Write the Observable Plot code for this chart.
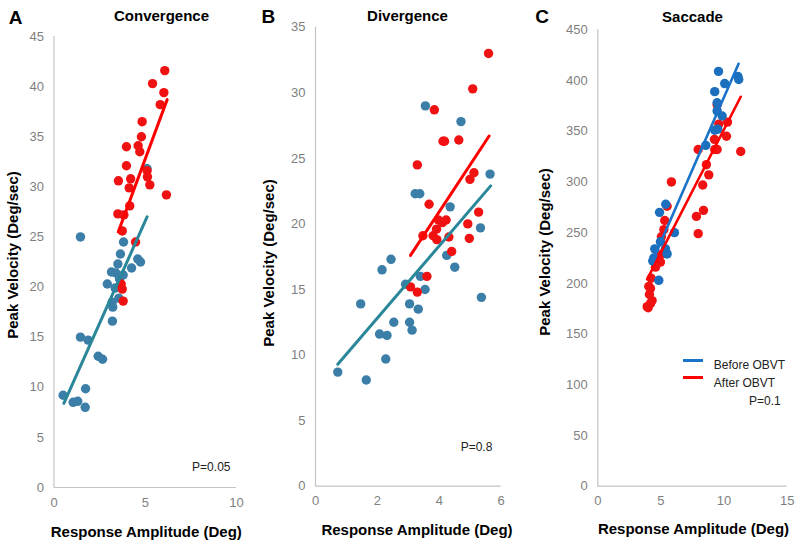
<!DOCTYPE html>
<html>
<head>
<meta charset="utf-8">
<script src="https://cdn.jsdelivr.net/npm/d3@7"></script>
<script src="https://cdn.jsdelivr.net/npm/@observablehq/plot@0.6"></script>
<style>
  html, body { margin: 0; padding: 0; background: #fff; }
  #chart { position: relative; width: 800px; height: 547px; overflow: hidden; background: #fff;
           font-family: 'Liberation Sans', Arial, sans-serif; }
  .panel { position: absolute; top: 0; }
  .panel svg { overflow: visible; display: block; }
  .lbl { position: absolute; white-space: nowrap; line-height: 1; transform: translate(-50%, -50%); color: #000; }
  .lblL { position: absolute; white-space: nowrap; line-height: 1; transform: translate(0, -50%); color: #000; }
  .letter { font-size: 19px; font-weight: bold; }
  .title { font-size: 15px; font-weight: bold; }
  .axt { font-size: 15px; font-weight: bold; }
  .axtY { font-size: 15px; font-weight: bold; transform: translate(-50%, -50%) rotate(-90deg); }
  .note { font-size: 12px; color: #222; }
  .legline { position: absolute; height: 3px; }
</style>
</head>
<body>
<div id="chart"></div>
<script>
// ---------------- DATA ----------------
// Panel A: Convergence
const convXTicks = [0, 5, 10];
const convYTicks = [0, 5, 10, 15, 20, 25, 30, 35, 40, 45];
const convBefore = [[1.45,25.0],[3.81,24.5],[3.64,23.3],[4.59,22.8],[4.74,22.5],[3.5,22.3],[4.25,21.9],[3.15,21.5],[3.39,21.4],[3.79,21.2],[3.59,20.8],[2.92,20.3],[3.35,19.9],[3.55,18.9],[3.19,18.5],[3.22,18.0],[3.2,16.6],[1.45,15.0],[1.87,14.7],[2.42,13.1],[2.66,12.8],[1.73,9.85],[0.5,9.2],[1.05,8.5],[1.3,8.6],[1.71,8.0],[5.1,31.8]];
const convAfter = [[6.07,41.6],[5.4,40.3],[6.02,39.4],[5.82,38.2],[4.83,36.5],[4.79,35.0],[3.97,34.0],[4.61,34.1],[4.70,33.5],[3.97,32.1],[5.1,31.6],[4.2,30.8],[5.12,31.0],[3.53,30.6],[5.25,30.2],[4.12,29.9],[6.16,29.2],[4.15,28.1],[3.5,27.3],[3.83,27.2],[3.74,25.6],[4.47,24.5],[3.68,20.3],[3.74,19.8],[3.79,18.6]];
const convBeforeFit = [[0.54,8.4],[5.1,27.0]];
const convAfterFit = [[3.52,25.5],[6.2,38.7]];

// Panel B: Divergence
const divXTicks = [0, 2, 4, 6];
const divYTicks = [0, 5, 10, 15, 20, 25, 30, 35];
const divBefore = [[3.55,29.0],[4.70,27.8],[5.64,23.8],[3.22,22.3],[3.37,22.3],[4.35,21.3],[5.33,19.7],[4.24,17.6],[2.44,17.3],[4.5,16.7],[2.15,16.5],[3.39,16.0],[2.91,15.4],[3.54,15.0],[5.36,14.4],[1.46,13.9],[3.04,13.9],[3.32,13.5],[2.53,12.5],[3.04,12.5],[3.12,11.9],[2.07,11.6],[2.31,11.5],[2.27,9.7],[0.72,8.7],[1.64,8.1]];
const divAfter = [[5.59,33.0],[5.08,30.3],[3.84,28.7],[4.12,26.3],[4.17,26.3],[4.63,26.4],[3.29,24.5],[5.12,23.9],[4.99,23.4],[3.67,21.5],[5.27,20.9],[3.97,20.3],[4.22,20.3],[4.10,20.1],[4.92,20.0],[3.91,19.6],[3.47,19.1],[3.8,19.1],[4.31,19.0],[4.97,18.9],[3.92,18.8],[4.40,17.9],[3.6,16.0],[3.07,15.2],[3.29,14.8]];
const divBeforeFit = [[0.72,9.3],[5.66,22.9]];
const divAfterFit = [[3.07,17.6],[5.61,26.7]];

// Panel C: Saccade
const sacXTicks = [0, 5, 10, 15];
const sacYTicks = [0, 50, 100, 150, 200, 250, 300, 350, 400, 450];
const sacBefore = [[9.56,409],[11.1,404],[11.16,401],[10.05,397],[9.26,389],[9.45,378],[9.45,370],[9.85,365],[9.5,352],[9.26,351],[8.55,336],[5.38,278],[4.89,270],[6.07,250],[4.96,241],[4.51,234],[5.36,234],[5.49,229],[4.43,225],[4.35,222],[4.83,203]];
const sacAfter = [[9.45,376],[10.27,359],[9.58,357],[10.19,345],[9.24,342],[9.26,332],[9.45,332],[7.95,332],[11.32,330],[8.6,317],[8.79,307],[8.31,297],[5.83,300],[8.37,272],[7.81,266],[7.95,249],[5.49,276],[5.3,262],[5.23,253],[5.04,246],[5.1,229],[4.7,226],[4.96,221],[4.57,216],[4.23,205],[4.04,197],[4.17,195],[4.09,189],[4.3,183],[4.17,180],[3.91,177],[3.99,176]];
const sacBeforeFit = [[4.3,221],[11.15,416.5]];
const sacAfterFit = [[3.91,204],[11.32,384]];

const panelLetters = ["A", "B", "C"];
const panelTitles = ["Convergence", "Divergence", "Saccade"];
const xTitle = "Response Amplitude (Deg)";
const yTitle = "Peak Velocity (Deg/sec)";
const pValues = ["P=0.05", "P=0.8", "P=0.1"];
const legendLabels = ["Before OBVT", "After OBVT"];

// ---------------- DRAWING ----------------
const chart = document.getElementById("chart");
const FONT = "'Liberation Sans', Arial, sans-serif";

function makePanel(cfg) {
  const px = d => d[0], py = d => d[1];
  const dotsB = Plot.dot(cfg.before, {x: px, y: py, r: 4.7, fill: cfg.blueDot, stroke: "none"});
  const dotsA = Plot.dot(cfg.after, {x: px, y: py, r: 4.7, fill: cfg.redDot, stroke: "none"});
  const lineB = Plot.line(cfg.beforeFit, {x: px, y: py, stroke: cfg.blueLine, strokeWidth: cfg.lw});
  const lineA = Plot.line(cfg.afterFit, {x: px, y: py, stroke: cfg.redLine, strokeWidth: cfg.lw});
  const dots = cfg.blueOnTop ? [dotsA, dotsB] : [dotsB, dotsA];
  const svg = Plot.plot({
    width: cfg.width, height: 547,
    marginLeft: cfg.ml, marginRight: cfg.mr, marginTop: cfg.mt, marginBottom: cfg.mb,
    x: {domain: cfg.xDomain},
    y: {domain: cfg.yDomain},
    style: {fontFamily: FONT, fontSize: "13px", color: "#7f7f7f", background: "transparent", overflow: "visible"},
    marks: [
      Plot.ruleX([0], {stroke: "#c4c4c4", strokeWidth: 1.2}),
      Plot.ruleY([0], {stroke: "#c4c4c4", strokeWidth: 1.2}),
      Plot.axisX(cfg.xTicks, {tickSize: 0, tickPadding: 10, fontSize: 13, label: null}),
      Plot.axisY(cfg.yTicks, {tickSize: 0, tickPadding: 10, fontSize: 13, label: null}),
      ...dots,
      lineB, lineA
    ]
  });
  const div = document.createElement("div");
  div.className = "panel";
  div.style.left = cfg.left + "px";
  div.appendChild(svg);
  chart.appendChild(div);
}

const blueAB = "#3b7ea8", blueLineAB = "#2a879a", red = "#f01212";
const blueC = "#1b6fbd", blueLineC = "#1a72c9";

makePanel({left: 0, width: 250, ml: 53.5, mr: 14, mt: 36, mb: 60,
  xDomain: [0, 10], yDomain: [0, 45], xTicks: convXTicks, yTicks: convYTicks,
  before: convBefore, after: convAfter, beforeFit: convBeforeFit, afterFit: convAfterFit,
  blueDot: blueAB, redDot: red, blueLine: blueLineAB, redLine: "#f00", lw: 3, blueOnTop: false});
makePanel({left: 255, width: 260, ml: 60, mr: 14.3, mt: 26.7, mb: 61.3,
  xDomain: [0, 6], yDomain: [0, 35], xTicks: divXTicks, yTicks: divYTicks,
  before: divBefore, after: divAfter, beforeFit: divBeforeFit, afterFit: divAfterFit,
  blueDot: blueAB, redDot: red, blueLine: blueLineAB, redLine: "#f00", lw: 3, blueOnTop: false});
makePanel({left: 530, width: 270, ml: 67.3, mr: 13.3, mt: 29.3, mb: 61.3,
  xDomain: [0, 15], yDomain: [0, 450], xTicks: sacXTicks, yTicks: sacYTicks,
  before: sacBefore, after: sacAfter, beforeFit: sacBeforeFit, afterFit: sacAfterFit,
  blueDot: blueC, redDot: red, blueLine: blueLineC, redLine: "#f00", lw: 2.6, blueOnTop: true});

// ---------------- TEXT OVERLAYS ----------------
function addText(text, cls, x, y, base) {
  const d = document.createElement("div");
  d.className = (base || "lbl") + " " + cls;
  d.style.left = x + "px";
  d.style.top = y + "px";
  d.textContent = text;
  chart.appendChild(d);
  return d;
}
const letterPos = [[15.5, 16.5], [268.3, 15.5], [542, 15.5]];
const titlePos = [[161.5, 14.5], [407.5, 14.5], [692.5, 16]];
const xTitlePos = [[146.3, 530.8], [417, 529.2], [693.5, 527.5]];
const yTitlePos = [[12.3, 255], [267.8, 262.5], [543.8, 252]];
for (let i = 0; i < 3; i++) {
  addText(panelLetters[i], "letter", ...letterPos[i]);
  addText(panelTitles[i], "title", ...titlePos[i]);
  addText(xTitle, "axt", ...xTitlePos[i]);
  const yt = addText(yTitle, "axtY", ...yTitlePos[i]);
  yt.className = "lblL axtY";
}
addText(pValues[0], "note", 211.3, 466.7);
addText(pValues[1], "note", 476.5, 446.7);
addText(pValues[2], "note", 749, 400.5, "lblL");

// legend (panel C)
const legColors = [blueLineC, "#f00"];
const legLineY = [360.7, 377.3];
const legTextY = [365.3, 382.8];
for (let i = 0; i < 2; i++) {
  const l = document.createElement("div");
  l.className = "legline";
  l.style.left = "683px";
  l.style.width = "20px";
  l.style.top = (legLineY[i] - 1.5) + "px";
  l.style.background = legColors[i];
  chart.appendChild(l);
  addText(legendLabels[i], "note", 713.8, legTextY[i], "lblL");
}
</script>
</body>
</html>
